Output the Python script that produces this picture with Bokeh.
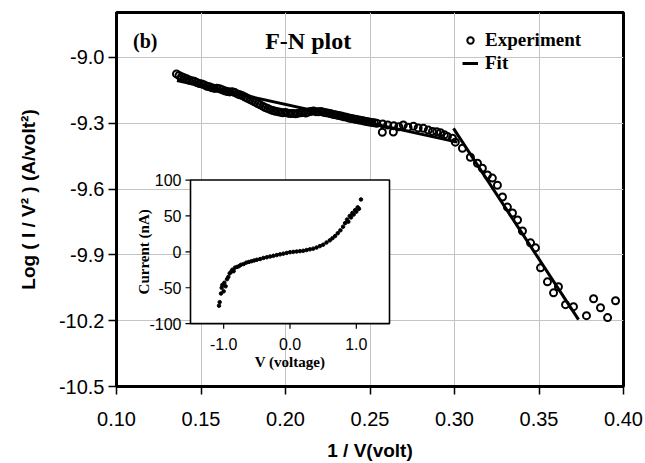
import math
from bokeh.plotting import figure
from bokeh.models import (Range1d, FixedTicker, NumeralTickFormatter, Label,
                          Legend, LegendItem)
from bokeh.embed import file_html
from bokeh.resources import INLINE
from bokeh.core.properties import value

# ---------------- data ----------------
x_ticks = [0.10, 0.15, 0.20, 0.25, 0.30, 0.35, 0.40]
y_ticks = [-10.5, -10.2, -9.9, -9.6, -9.3, -9.0]
X_LIM = (0.10, 0.40)
Y_LIM = (-10.5, -8.795)

exp_x = [0.1355, 0.137, 0.1385, 0.140, 0.1415, 0.143, 0.1445, 0.146, 0.1475, 0.149,
         0.1505, 0.152, 0.1535, 0.155, 0.1565, 0.158, 0.1595, 0.161, 0.1625, 0.164,
         0.1655, 0.167, 0.1685, 0.170, 0.1715, 0.173, 0.1745, 0.176, 0.1775, 0.179,
         0.1805, 0.182, 0.1835, 0.185, 0.1865, 0.188, 0.1895, 0.191, 0.1925, 0.194,
         0.1955, 0.197, 0.1985, 0.200, 0.2015, 0.203, 0.2045, 0.206, 0.2075, 0.209,
         0.2105, 0.212, 0.2135, 0.215, 0.2165, 0.218, 0.2195, 0.221, 0.2225, 0.224,
         0.2255, 0.227, 0.2285, 0.230, 0.2315, 0.233, 0.2345, 0.236, 0.2375, 0.239,
         0.2405, 0.242, 0.2435, 0.245, 0.2465, 0.248, 0.2495, 0.251, 0.2525, 0.254,
         0.2573, 0.2575, 0.2605, 0.2638, 0.2640, 0.2670, 0.2697, 0.2725, 0.2757, 0.2785,
         0.2816, 0.2845, 0.2870, 0.2895, 0.2917, 0.2940, 0.2958, 0.2988,
         0.3005, 0.3047, 0.3094, 0.3136, 0.3165, 0.3195, 0.3224, 0.3254, 0.3284, 0.3313,
         0.3343, 0.3373, 0.3402, 0.3450, 0.3479, 0.3509, 0.3550, 0.3586, 0.3615, 0.3657,
         0.3704, 0.3781, 0.3823, 0.3864, 0.3906, 0.3953]
exp_y = [-9.075, -9.082, -9.088, -9.092, -9.097, -9.103, -9.106, -9.108, -9.114, -9.119,
         -9.121, -9.125, -9.131, -9.134, -9.138, -9.141, -9.140, -9.143, -9.147, -9.152,
         -9.155, -9.157, -9.156, -9.160, -9.166, -9.170, -9.174, -9.180, -9.186, -9.192,
         -9.198, -9.203, -9.210, -9.216, -9.222, -9.228, -9.233, -9.238, -9.242, -9.245,
         -9.247, -9.250, -9.252, -9.251, -9.254, -9.256, -9.255, -9.257, -9.254, -9.252,
         -9.250, -9.253, -9.249, -9.246, -9.244, -9.247, -9.248, -9.246, -9.250, -9.252,
         -9.254, -9.257, -9.260, -9.262, -9.265, -9.267, -9.270, -9.272, -9.276, -9.278,
         -9.280, -9.283, -9.285, -9.287, -9.290, -9.292, -9.294, -9.296, -9.298, -9.300,
         -9.341, -9.303, -9.308, -9.340, -9.311, -9.316, -9.308, -9.318, -9.313, -9.321,
         -9.323, -9.331, -9.337, -9.339, -9.343, -9.352, -9.360, -9.368,
         -9.386, -9.414, -9.455, -9.482, -9.505, -9.536, -9.550, -9.582, -9.636, -9.682,
         -9.709, -9.741, -9.791, -9.845, -9.868, -9.959, -10.023, -10.073, -10.045, -10.127,
         -10.136, -10.177, -10.100, -10.141, -10.186, -10.109]

fit1_x = [0.1358, 0.3017]
fit1_y = [-9.105, -9.386]
fit2_x = [0.2994, 0.3734]
fit2_y = [-9.323, -10.195]

# inset I-V data
iv_v = [-1.07, -1.06, -1.04, -1.03, -1.02, -1.00, -0.99, -0.97, -0.95, -0.93,
        -0.91, -0.89, -0.87, -0.85, -0.83, -0.80, -0.77, -0.74, -0.70, -0.66,
        -0.62, -0.58, -0.54, -0.50, -0.45, -0.40, -0.35, -0.30, -0.25, -0.20,
        -0.15, -0.10, -0.05, 0.00, 0.05, 0.10, 0.15, 0.20, 0.25, 0.30,
        0.35, 0.40, 0.45, 0.50, 0.55, 0.60, 0.64, 0.68, 0.72, 0.76,
        0.80, 0.83, 0.86, 0.88, 0.90, 0.92, 0.94, 0.96, 0.98, 1.00,
        1.02, 1.04, 1.07]
iv_i = [-75, -70, -58, -50, -46, -55, -43, -48, -38, -35,
        -30, -28, -25, -27, -22, -21, -20, -18, -17, -15,
        -14, -13, -12, -11, -10, -8.5, -7.5, -6.5, -5.5, -4.5,
        -3.5, -2.5, -1.5, -0.5, 0, 0.5, 1, 1.5, 2.5, 3.5,
        4.5, 6, 8, 10, 13, 16, 19, 22, 26, 30,
        35, 40, 45, 42, 50, 48, 54, 52, 58, 56,
        62, 60, 73]
ix_ticks = [-1.0, 0.0, 1.0]
ix_labels = ["-1.0", "0.0", "1.0"]
iy_ticks = [-100, -50, 0, 50, 100]
iy_labels = ["-100", "-50", "0", "50", "100"]

# ---------------- layout constants (page pixels) ----------------
FX0, FX1, FY0, FY1 = 116, 623, 12, 387      # main frame
IX0, IX1, IY0, IY1 = 190, 389, 180, 324     # inset frame
INSET_X = (-1.5, 1.5)
INSET_Y = (-100, 100)

SANS = "Liberation Sans"
SERIF = "Liberation Serif"

p = figure(width=645, height=463, output_backend="svg", toolbar_location=None,
           x_range=Range1d(*X_LIM), y_range=Range1d(*Y_LIM),
           min_border_left=FX0, min_border_right=645 - FX1,
           min_border_top=FY0, min_border_bottom=463 - FY1)
p.background_fill_color = "white"
p.border_fill_color = "white"
p.outline_line_color = "black"
p.outline_line_width = 3

# axes
p.xaxis.ticker = FixedTicker(ticks=x_ticks)
p.yaxis.ticker = FixedTicker(ticks=y_ticks)
p.xaxis.formatter = NumeralTickFormatter(format="0.00")
p.yaxis.formatter = NumeralTickFormatter(format="0.0")
for ax in (p.xaxis, p.yaxis):
    ax.axis_line_width = 3
    ax.major_tick_in = 0
    ax.major_tick_out = 8
    ax.major_tick_line_width = 1.5
    ax.minor_tick_line_color = None
    ax.major_label_text_font = SANS
    ax.major_label_text_font_size = "20px"
    ax.major_label_text_color = "black"
    ax.axis_label_text_font = SANS
    ax.axis_label_text_font_style = "bold"
    ax.axis_label_text_font_size = "19px"
    ax.axis_label_text_color = "black"
p.xaxis.major_label_standoff = 17
p.yaxis.major_label_standoff = 4
p.xaxis.axis_label = "1 / V(volt)"
p.xaxis.axis_label_standoff = 11
p.xaxis.axis_label_text_line_height = 0.8
p.xaxis.major_label_text_line_height = 0.8
p.yaxis.axis_label = "Log ( I / V\u00b2 ) (A/volt\u00b2)"
p.yaxis.axis_label_standoff = 17

# faint grid lines at the tick positions
for g in (p.xgrid, p.ygrid):
    g.grid_line_color = "#c4c4c4"
    g.grid_line_width = 1

# inset ranges mapped onto whole frame
sx = (INSET_X[1] - INSET_X[0]) / (IX1 - IX0)
sy = (INSET_Y[1] - INSET_Y[0]) / (IY1 - IY0)
p.extra_x_ranges = {"ix": Range1d(INSET_X[0] - (IX0 - FX0) * sx, INSET_X[1] + (FX1 - IX1) * sx)}
p.extra_y_ranges = {"iy": Range1d(INSET_Y[0] - (FY1 - IY1) * sy, INSET_Y[1] + (IY0 - FY0) * sy)}
kw = dict(x_range_name="ix", y_range_name="iy")

# main data
r_exp = p.scatter(exp_x, exp_y, marker="circle", size=7, fill_color=None,
                  line_color="black", line_width=2)
r_fit = p.line(fit1_x, fit1_y, line_color="black", line_width=3)
p.line(fit2_x, fit2_y, line_color="black", line_width=3)

# inset
p.quad(left=INSET_X[0], right=INSET_X[1], bottom=INSET_Y[0], top=INSET_Y[1],
       fill_color="white", line_color="black", line_width=1.6, **kw)
p.scatter(iv_v, iv_i, marker="circle", size=3.5, color="black", **kw)
p.ray(x=ix_ticks, y=[INSET_Y[0]] * len(ix_ticks), length=5, length_units="screen",
      angle=-math.pi / 2, line_color="black", line_width=1.2, **kw)
p.ray(x=[INSET_X[0]] * len(iy_ticks), y=iy_ticks, length=5, length_units="screen",
      angle=math.pi, line_color="black", line_width=1.2, **kw)
p.text(x=ix_ticks, y=[INSET_Y[0]] * len(ix_ticks), text=ix_labels, y_offset=14,
       text_align="center", text_baseline="top", text_font=value(SANS),
       text_font_size="16px", text_color="black", **kw)
p.text(x=[INSET_X[0]] * len(iy_ticks), y=iy_ticks, text=iy_labels, x_offset=-9,
       text_align="right", text_baseline="middle", text_font=value(SANS),
       text_font_size="16px", text_color="black", **kw)
p.add_layout(Label(x=INSET_X[0], y=0, text="Current (nA)", x_offset=-47, angle=math.pi / 2,
                   text_align="center", text_baseline="middle", text_font=SERIF,
                   text_font_style="bold", text_font_size="15px", text_color="black", **kw))
p.add_layout(Label(x=0, y=INSET_Y[0], text="V (voltage)", y_offset=-38,
                   text_align="center", text_baseline="middle", text_font=SERIF,
                   text_font_style="bold", text_font_size="15px", text_color="black", **kw))

# annotations
p.add_layout(Label(x=0.1098, y=-8.927, text="(b)", text_align="left", text_baseline="middle",
                   text_font=SERIF, text_font_style="bold", text_font_size="20px",
                   text_color="black"))
p.add_layout(Label(x=0.2134, y=-8.923, text="F-N plot", text_align="center",
                   text_baseline="middle", text_font=SERIF, text_font_style="bold",
                   text_font_size="24px", text_color="black"))

legend = Legend(items=[LegendItem(label="Experiment", renderers=[r_exp]),
                       LegendItem(label="Fit", renderers=[r_fit])],
                location=(346, 312), border_line_color=None, background_fill_alpha=0,
                label_text_font=SERIF, label_text_font_style="bold",
                label_text_font_size="19px", label_text_color="black",
                glyph_width=16, glyph_height=20, label_height=20, spacing=1,
                padding=0, margin=0, label_standoff=7)
p.add_layout(legend)

open("out.html", "w").write(file_html(p, INLINE))
